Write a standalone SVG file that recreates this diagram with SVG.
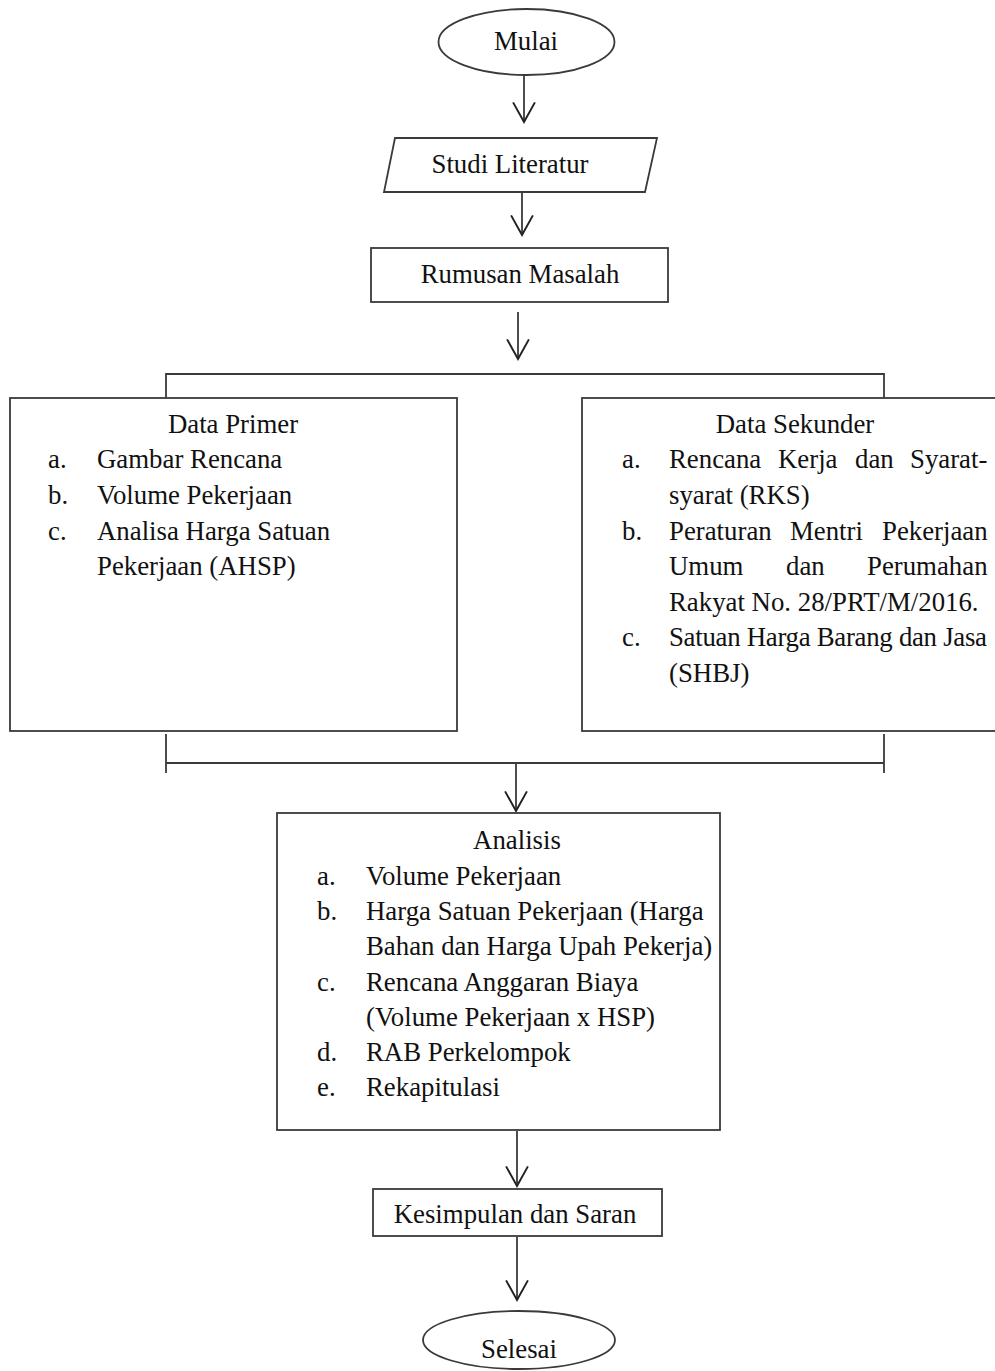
<svg xmlns="http://www.w3.org/2000/svg" width="995" height="1371" viewBox="0 0 995 1371">
<defs>
<style>
.s{fill:#fff;stroke:#3a3a3a;stroke-width:1.8}
.l{fill:none;stroke:#3a3a3a;stroke-width:1.8}
.t{font-family:"Liberation Serif","Times New Roman",serif;font-size:26.8px;fill:#111}
.c{text-anchor:middle}
</style>
<marker id="ah" markerUnits="userSpaceOnUse" markerWidth="24" markerHeight="24" refX="19" refY="11" orient="auto" viewBox="0 0 22 22">
<path d="M1,1 L19,11 L1,21" fill="none" stroke="#222" stroke-width="1.8"/>
</marker>
</defs>
<rect width="995" height="1371" fill="#fff"/>
<g id="connectors">
<line class="l" x1="524" y1="75" x2="524" y2="122" marker-end="url(#ah)"/>
<line class="l" x1="522" y1="192" x2="522" y2="235" marker-end="url(#ah)"/>
<line class="l" x1="518" y1="312" x2="518" y2="359" marker-end="url(#ah)"/>
<path class="l" d="M166,398 V374 H884 V398"/>
<path class="l" d="M166,734 V773 M884,734 V773 M166,763 H884"/>
<line class="l" x1="516" y1="763" x2="516" y2="811" marker-end="url(#ah)"/>
<line class="l" x1="517" y1="1131" x2="517" y2="1186" marker-end="url(#ah)"/>
<line class="l" x1="517" y1="1237" x2="517" y2="1300" marker-end="url(#ah)"/>
</g>
<g id="mulai">
<ellipse class="s" cx="526.5" cy="42" rx="88" ry="33"/>
<text class="t c" x="526" y="50">Mulai</text>
</g>
<g id="studi">
<polygon class="s" points="395,138 657,138 645,192 384,192"/>
<text class="t c" x="510" y="173">Studi Literatur</text>
</g>
<g id="rumusan">
<rect class="s" x="371" y="248" width="297" height="54"/>
<text class="t c" x="520" y="283">Rumusan Masalah</text>
</g>
<g id="primer">
<rect class="s" x="10" y="398" width="447" height="333"/>
<text class="t c" x="233" y="433">Data Primer</text>
<text class="t" x="48" y="468">a.</text><text class="t" x="97" y="468">Gambar Rencana</text>
<text class="t" x="48" y="504">b.</text><text class="t" x="97" y="504">Volume Pekerjaan</text>
<text class="t" x="48" y="540">c.</text><text class="t" x="97" y="540">Analisa Harga Satuan</text>
<text class="t" x="97" y="575">Pekerjaan (AHSP)</text>
</g>
<g id="sekunder">
<rect class="s" x="582" y="398" width="420" height="333"/>
<text class="t c" x="795" y="433">Data Sekunder</text>
<text class="t" x="622" y="468">a.</text>
<text class="t" y="468"><tspan x="669">Rencana</tspan><tspan x="778">Kerja</tspan><tspan x="855">dan</tspan><tspan x="910">Syarat-</tspan></text>
<text class="t" x="669" y="504">syarat (RKS)</text>
<text class="t" x="622" y="540">b.</text>
<text class="t" y="540"><tspan x="669">Peraturan</tspan><tspan x="790">Mentri</tspan><tspan x="882">Pekerjaan</tspan></text>
<text class="t" y="575"><tspan x="669">Umum</tspan><tspan x="786">dan</tspan><tspan x="867">Perumahan</tspan></text>
<text class="t" x="669" y="611">Rakyat No. 28/PRT/M/2016.</text>
<text class="t" x="622" y="646">c.</text>
<text class="t" x="669" y="646" textLength="318" lengthAdjust="spacing">Satuan Harga Barang dan Jasa</text>
<text class="t" x="669" y="682">(SHBJ)</text>
</g>
<g id="analisis">
<rect class="s" x="277" y="813" width="443" height="317"/>
<text class="t c" x="517" y="849">Analisis</text>
<text class="t" x="317" y="885">a.</text><text class="t" x="366" y="885">Volume Pekerjaan</text>
<text class="t" x="317" y="920">b.</text><text class="t" x="366" y="920">Harga Satuan Pekerjaan (Harga</text>
<text class="t" x="366" y="955">Bahan dan Harga Upah Pekerja)</text>
<text class="t" x="317" y="991">c.</text><text class="t" x="366" y="991">Rencana Anggaran Biaya</text>
<text class="t" x="366" y="1026">(Volume Pekerjaan x HSP)</text>
<text class="t" x="317" y="1061">d.</text><text class="t" x="366" y="1061">RAB Perkelompok</text>
<text class="t" x="317" y="1096">e.</text><text class="t" x="366" y="1096">Rekapitulasi</text>
</g>
<g id="kesimpulan">
<rect class="s" x="373" y="1189" width="289" height="47"/>
<text class="t c" x="515" y="1223">Kesimpulan dan Saran</text>
</g>
<g id="selesai">
<ellipse class="s" cx="519" cy="1340" rx="96" ry="29"/>
<text class="t c" x="519" y="1358">Selesai</text>
</g>
</svg>
